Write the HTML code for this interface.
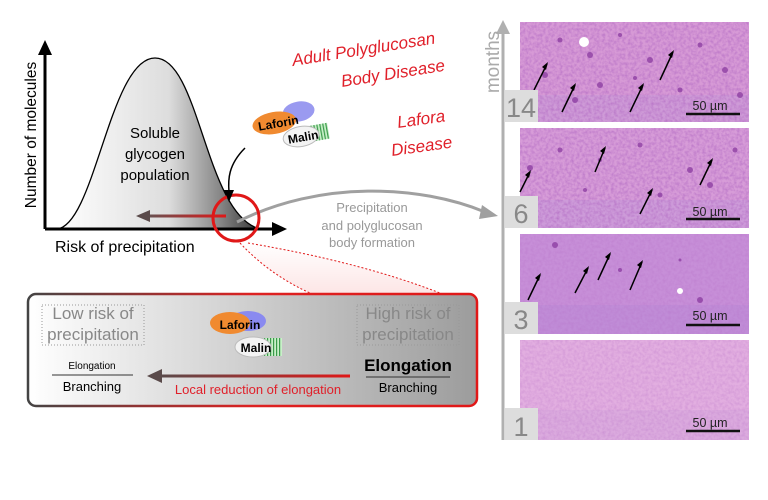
<!DOCTYPE html>
<html><head><meta charset="utf-8"><style>
html,body{margin:0;padding:0;background:#fff;width:768px;height:500px;overflow:hidden}
svg{display:block;font-family:"Liberation Sans",sans-serif}
</style></head><body>
<svg width="768" height="500" viewBox="0 0 768 500" xmlns="http://www.w3.org/2000/svg">
<defs>
<linearGradient id="bell" x1="0" x2="1" y1="0" y2="0">
<stop offset="0" stop-color="#fff"/><stop offset="0.55" stop-color="#ddd"/><stop offset="0.8" stop-color="#888"/><stop offset="1" stop-color="#333"/></linearGradient>
<linearGradient id="box" x1="0" x2="1"><stop offset="0" stop-color="#fff"/><stop offset="1" stop-color="#9c9c9c"/></linearGradient>
<linearGradient id="bord" x1="0" x2="1"><stop offset="0" stop-color="#444"/><stop offset="0.5" stop-color="#d22"/><stop offset="1" stop-color="#e01818"/></linearGradient>
<linearGradient id="redarr1" gradientUnits="userSpaceOnUse" x1="150" x2="226" y1="0" y2="0"><stop offset="0" stop-color="#6a5050"/><stop offset="1" stop-color="#e01818"/></linearGradient>
<linearGradient id="redarr2" gradientUnits="userSpaceOnUse" x1="160" x2="350" y1="0" y2="0"><stop offset="0" stop-color="#5a4a4a"/><stop offset="1" stop-color="#e01818"/></linearGradient>
<linearGradient id="pink" x1="0" x2="0" y1="0" y2="1"><stop offset="0" stop-color="#fff"/><stop offset="1" stop-color="#f8b8b8"/></linearGradient>
<pattern id="stripe" width="3" height="6" patternUnits="userSpaceOnUse"><rect width="3" height="6" fill="#c8f0c8"/><rect width="1.2" height="6" fill="#3a9a4a"/></pattern>
<filter id="noise" x="0" y="0" width="100%" height="100%"><feTurbulence type="fractalNoise" baseFrequency="0.35" numOctaves="2" seed="3"/><feColorMatrix values="0 0 0 0 0.45  0 0 0 0 0.15  0 0 0 0 0.55  0 0 0 1.6 -0.55"/><feComposite in2="SourceGraphic" operator="in"/></filter>
</defs>

<path d="M57,229 C95,225 110,58 155,58 C200,58 205,215 260,229 Z" fill="url(#bell)" stroke="#000" stroke-width="1.3"/>
<text x="155" y="138" font-size="15" text-anchor="middle">Soluble</text>
<text x="155" y="159" font-size="15" text-anchor="middle">glycogen</text>
<text x="155" y="180" font-size="15" text-anchor="middle">population</text>
<line x1="45" y1="229" x2="45" y2="52" stroke="#000" stroke-width="3"/>
<polygon points="45,40 38,55 52,55"/>
<line x1="45" y1="229" x2="275" y2="229" stroke="#000" stroke-width="3"/>
<polygon points="287,229 272,222 272,236"/>
<text x="55" y="252" font-size="16">Risk of precipitation</text>
<text transform="translate(36,135) rotate(-90)" font-size="15.5" text-anchor="middle">Number of molecules</text>
<rect x="150" y="214.5" width="76" height="3" fill="url(#redarr1)"/>
<polygon points="136,216 150,210 150,222" fill="#5a4a4a"/>
<path d="M237,222 C320,180 420,185 485,212" fill="none" stroke="#a0a0a0" stroke-width="3"/>
<polygon points="498,216 482,205 479,219" fill="#a0a0a0"/>
<circle cx="236" cy="218" r="23" fill="none" stroke="#e01818" stroke-width="3"/>
<path d="M245,148 C228,165 228,180 229,192" fill="none" stroke="#000" stroke-width="1.5"/>
<polygon points="229,202 224,190 234,190"/>
<g transform="translate(250,112) rotate(-10)">
<ellipse cx="48" cy="8" rx="16" ry="10" fill="#9a9af0"/>
<ellipse cx="22" cy="15" rx="22" ry="11" fill="#f08a30"/>
<text x="26" y="20" font-size="12" font-weight="bold" text-anchor="middle">Laforin</text>
<rect x="40" y="24" width="34" height="16" fill="url(#stripe)"/>
<ellipse cx="46" cy="33" rx="18" ry="10" fill="#f3f3f3" stroke="#bbb"/>
<text x="48" y="38" font-size="12" font-weight="bold" text-anchor="middle">Malin</text>
</g>
<g fill="#999" font-size="13" text-anchor="middle">
<text x="372" y="212">Precipitation</text>
<text x="372" y="230">and polyglucosan</text>
<text x="372" y="247">body formation</text>
</g>
<g fill="#e0202a" font-size="17" font-style="italic">
<text transform="translate(293,66) rotate(-9)">Adult Polyglucosan</text>
<text transform="translate(342,87) rotate(-9)">Body Disease</text>
<text transform="translate(398,128) rotate(-8)">Lafora</text>
<text transform="translate(392,156) rotate(-8)">Disease</text>
</g>
<path d="M240,243 Q270,275 310,293 L440,293 Q360,262 252,243 Z" fill="url(#pink)" opacity="0.35"/>
<path d="M240,243 Q270,275 310,293" fill="none" stroke="#e01818" stroke-dasharray="2,2"/>
<path d="M248,243 Q360,262 440,293" fill="none" stroke="#e01818" stroke-dasharray="2,2"/>
<rect x="28" y="294" width="449" height="112" rx="8" fill="url(#box)" stroke="url(#bord)" stroke-width="2.5"/>
<g fill="#888" font-size="17" text-anchor="middle">
<text x="93" y="319">Low risk of</text>
<text x="93" y="340">precipitation</text>
<text x="408" y="319">High risk of</text>
<text x="408" y="340">precipitation</text>
</g>
<rect x="42" y="305" width="102" height="40" fill="none" stroke="#999" stroke-dasharray="1,2"/>
<rect x="357" y="305" width="102" height="40" fill="none" stroke="#999" stroke-dasharray="1,2"/>
<g transform="translate(210,312)">
<ellipse cx="38" cy="9" rx="18" ry="10" fill="#8a8af0"/>
<ellipse cx="20" cy="11" rx="20" ry="11" fill="#f08a30"/>
<text x="30" y="17" font-size="12" font-weight="bold" text-anchor="middle">Laforin</text>
<rect x="38" y="26" width="34" height="18" fill="url(#stripe)"/>
<ellipse cx="43" cy="35" rx="18" ry="10" fill="#f3f3f3" stroke="#bbb"/>
<text x="46" y="40" font-size="12" font-weight="bold" text-anchor="middle">Malin</text>
</g>
<text x="92" y="369" font-size="10" text-anchor="middle">Elongation</text>
<line x1="52" y1="375" x2="133" y2="375" stroke="#333" stroke-width="1"/>
<text x="92" y="391" font-size="13" text-anchor="middle">Branching</text>
<text x="408" y="371" font-size="17" font-weight="bold" text-anchor="middle">Elongation</text>
<line x1="366" y1="377" x2="450" y2="377" stroke="#333" stroke-width="1"/>
<text x="408" y="392" font-size="13" text-anchor="middle">Branching</text>
<rect x="160" y="374.5" width="190" height="3" fill="url(#redarr2)"/>
<polygon points="147,376 162,369 162,383" fill="#5a4a4a"/>
<text x="258" y="394" font-size="13" fill="#e0202a" text-anchor="middle">Local reduction of elongation</text>

<line x1="503" y1="440" x2="503" y2="32" stroke="#b0b0b0" stroke-width="3"/>
<polygon points="503,20 496,34 510,34" fill="#b0b0b0"/>
<text transform="translate(499,62) rotate(-90)" font-size="19" fill="#aaa" text-anchor="middle">months</text>

<g>
<rect x="520" y="22" width="229" height="100" fill="#d79ad6"/>
<rect x="520" y="128" width="229" height="100" fill="#d79cd8"/>
<rect x="520" y="234" width="229" height="100" fill="#c78fd8"/>
<rect x="520" y="340" width="229" height="100" fill="#e2aee0"/>
<rect x="520" y="95" width="229" height="27" fill="#c59ad8" opacity="0.5"/>
<rect x="520" y="200" width="229" height="28" fill="#c49ad9" opacity="0.5"/>
<rect x="520" y="305" width="229" height="29" fill="#b98ad5" opacity="0.5"/>
<rect x="520" y="410" width="229" height="30" fill="#d7a6dc" opacity="0.6"/>
<rect x="520" y="22" width="229" height="100" fill="#fff" filter="url(#noise)" opacity="0.8"/>
<rect x="520" y="128" width="229" height="100" fill="#fff" filter="url(#noise)" opacity="0.8"/>
<rect x="520" y="234" width="229" height="100" fill="#fff" filter="url(#noise)" opacity="0.35"/>
<rect x="520" y="340" width="229" height="100" fill="#fff" filter="url(#noise)" opacity="0.35"/>
<g fill="#8a3aa0" opacity="0.75">
<circle cx="560" cy="40" r="2.5"/><circle cx="590" cy="55" r="3"/><circle cx="620" cy="35" r="2"/><circle cx="650" cy="60" r="3"/><circle cx="700" cy="45" r="2.5"/><circle cx="725" cy="70" r="3"/><circle cx="545" cy="75" r="3"/><circle cx="600" cy="85" r="3"/><circle cx="680" cy="90" r="2.5"/><circle cx="740" cy="95" r="3"/><circle cx="635" cy="78" r="2"/><circle cx="575" cy="100" r="3"/>
<circle cx="560" cy="150" r="2.5"/><circle cx="600" cy="160" r="2"/><circle cx="640" cy="145" r="2.5"/><circle cx="690" cy="170" r="3"/><circle cx="735" cy="150" r="2.5"/><circle cx="530" cy="168" r="3"/><circle cx="585" cy="190" r="2"/><circle cx="660" cy="195" r="2.5"/><circle cx="710" cy="185" r="3"/>
<circle cx="555" cy="245" r="3"/><circle cx="620" cy="270" r="2"/><circle cx="680" cy="260" r="1.5"/><circle cx="700" cy="300" r="3"/>
</g>
<g fill="#fff"><circle cx="584" cy="42" r="5"/><circle cx="680" cy="291" r="3"/></g>
<g stroke="#000" stroke-width="1.5">
<line x1="534" y1="90" x2="547" y2="64"/><line x1="562" y1="112" x2="575" y2="85"/><line x1="630" y1="112" x2="643" y2="85"/><line x1="660" y1="80" x2="673" y2="52"/>
<line x1="520" y1="192" x2="530" y2="172"/><line x1="595" y1="172" x2="605" y2="148"/><line x1="640" y1="214" x2="652" y2="190"/><line x1="700" y1="185" x2="712" y2="160"/>
<line x1="528" y1="300" x2="540" y2="275"/><line x1="575" y1="293" x2="588" y2="268"/><line x1="598" y1="280" x2="610" y2="254"/><line x1="630" y1="290" x2="642" y2="262"/>
</g>
<g fill="#000"><polygon points="548,62 546,70 542,67"/><polygon points="576,83 574,91 570,88"/><polygon points="644,83 642,91 638,88"/><polygon points="674,50 672,58 668,55"/>
<polygon points="531,170 529,178 525,175"/><polygon points="606,146 604,154 600,151"/><polygon points="653,188 651,196 647,193"/><polygon points="713,158 711,166 707,163"/>
<polygon points="541,273 539,281 535,278"/><polygon points="589,266 587,274 583,271"/><polygon points="611,252 609,260 605,257"/><polygon points="643,260 641,268 637,265"/></g>
<g fill="#ddd"><rect x="505" y="90" width="33" height="32"/><rect x="505" y="196" width="33" height="32"/><rect x="505" y="302" width="33" height="32"/><rect x="505" y="408" width="33" height="32"/></g>
<g fill="#888" font-size="27" text-anchor="middle"><text x="521" y="117">14</text><text x="521" y="223">6</text><text x="521" y="329">3</text><text x="521" y="436">1</text></g>
<g font-size="12.5" fill="#222" text-anchor="middle"><text x="710" y="110">50 µm</text><text x="710" y="216">50 µm</text><text x="710" y="320">50 µm</text><text x="710" y="427">50 µm</text></g>
<g stroke="#111" stroke-width="2.5"><line x1="686" y1="114" x2="740" y2="114"/><line x1="686" y1="219" x2="740" y2="219"/><line x1="686" y1="325" x2="740" y2="325"/><line x1="686" y1="431" x2="740" y2="431"/></g>
</g>
</svg>
</body></html>
